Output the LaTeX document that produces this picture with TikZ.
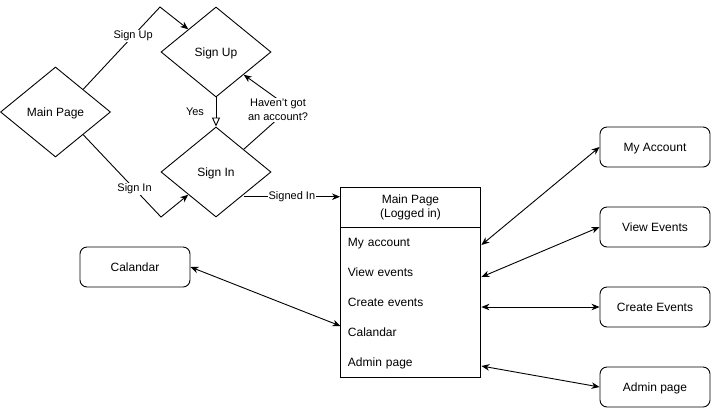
\documentclass[tikz,border=0pt]{standalone}
\usepackage{fontspec}
\setmainfont{Liberation Sans}
\usetikzlibrary{arrows.meta,shapes.geometric}
\begin{document}
\begin{tikzpicture}[x=1pt,y=-1pt,line width=0.9pt,
  txt/.style={font=\fontsize{12}{14}\selectfont},
  one/.style={text height=10.9pt,text depth=2.5pt},
  dia/.style={diamond,draw,minimum width=110pt,minimum height=90pt,inner sep=0pt,txt,one},
  rbox/.style={draw,rounded corners=7pt,minimum width=110pt,minimum height=40pt,inner sep=0pt,txt,one},
  row/.style={anchor=west,minimum height=30pt,inner xsep=7pt,inner ysep=0pt,text width=126pt,align=left,txt,one},
  lbl/.style={fill=white,inner sep=1pt,align=center,font=\fontsize{11}{14}\selectfont},
  arr/.style={-{Stealth[length=8pt,width=6.5pt,inset=2.5pt]}},
  darr/.style={{Stealth[length=8pt,width=6.5pt,inset=2.5pt]}-{Stealth[length=8pt,width=6.5pt,inset=2.5pt]}},
  openarr/.style={-{Triangle[open,length=9pt,width=8pt,fill=white]}}]
\useasboundingbox (0,0) rectangle (711,408);

% diamonds
\node[dia] (mp) at (55.5,112) {Main Page};
\node[dia] (su) at (216,52) {Sign Up};
\node[dia] (si) at (216,172) {Sign In};

% waypoints
\coordinate (w1) at (160,7);
\coordinate (w2) at (161,217);
\coordinate (w3) at (290,108);

% logged-in page
\node[draw,minimum width=140pt,minimum height=40pt,inner sep=0pt,align=center,anchor=north,txt] (hdr) at (410.5,187) {Main Page\\(Logged in)};
\node[draw,minimum width=140pt,minimum height=150pt,inner sep=0pt,anchor=north] (body) at (410.5,227) {};
\node[row] (r1) at (340.5,242) {My account};
\node[row] (r2) at (340.5,272) {View events};
\node[row] (r3) at (340.5,302) {Create events};
\node[row] (r4) at (340.5,332) {Calandar};
\node[row] (r5) at (340.5,362) {Admin page};

% side boxes
\node[rbox] (ma) at (655,147) {My Account};
\node[rbox] (ve) at (655,227) {View Events};
\node[rbox] (ce) at (655,307) {Create Events};
\node[rbox] (ap) at (655,387) {Admin page};
\node[rbox] (cal) at (135,267) {Calandar};

% flow edges
\draw[arr] (mp.north east) -- node[lbl,pos=0.65] {Sign Up} (w1) -- (su.north west);
\draw[arr] (mp.south east) -- node[lbl,pos=0.66] {Sign In} (w2) -- (si.south west);
\draw[openarr] (su.south) -- node[lbl,xshift=-21pt] {Yes} (si.north);
\draw[arr] (si.north east) -- (w3) -- (su.south east);
\node[lbl] (hl) at (278,110) {Haven't got\\an account?};
\draw[arr] ([yshift=-2pt]si.south east) -- node[lbl] {Signed In} ([yshift=-2pt]si.south east -| hdr.west);

% page links
\draw[darr] ([yshift=-3pt]r1.east) -- (ma.west);
\draw[darr] ([yshift=-5pt]r2.east) -- (ve.west);
\draw[darr] ([yshift=-5pt]r3.east) -- (ce.west);
\draw[darr] ([yshift=-4pt]r5.east) -- (ap.west);
\draw[darr] (cal.east) -- ([yshift=6pt]r4.west);
\end{tikzpicture}
\end{document}
